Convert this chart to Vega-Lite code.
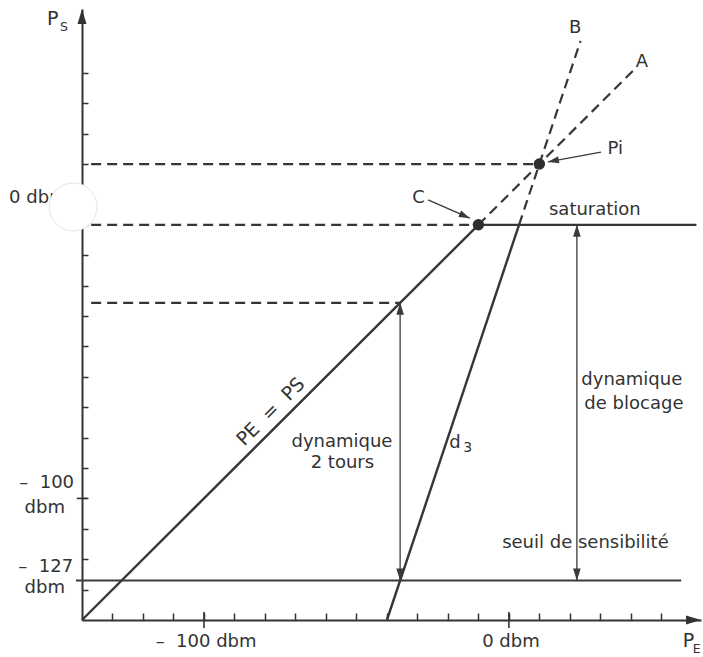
{
  "$schema": "https://vega.github.io/schema/vega-lite/v6.json",
  "width": 619,
  "height": 611,
  "autosize": {"type": "none"},
  "padding": {"left": 82, "top": 9, "right": 2, "bottom": 37},
  "background": "#ffffff",
  "config": {
    "view": {"stroke": null},
    "text": {"font": "DejaVu Sans", "fontSize": 18, "fill": "#333333"},
    "axis": {"zindex": 0}
  },
  "encoding": {
    "x": {
      "field": "x", "type": "quantitative",
      "scale": {"domain": [-140, 63], "nice": false, "zero": false},
      "axis": {"title": null, "labels": false, "grid": false, "domainColor": "#333333", "domainWidth": 2, "tickColor": "#333333", "tickWidth": 1.5, "tickSize": -7,
        "values": [-130, -120, -110, -100, -90, -80, -70, -60, -50, -40, -30, -20, -10, 0, 10, 20, 30, 40, 50]}
    },
    "y": {
      "field": "y", "type": "quantitative",
      "scale": {"domain": [-140, 61], "nice": false, "zero": false},
      "axis": {"title": null, "labels": false, "grid": false, "domainColor": "#333333", "domainWidth": 2, "tickColor": "#333333", "tickWidth": 1.5, "tickSize": -6,
        "values": [-130, -120, -110, -100, -90, -80, -70, -60, -50, -40, -30, -20, -10, 0, 10, 20, 30, 40]}
    }
  },
  "layer": [
    {
      "data": {"values": [
        {"x": -140, "y": -140, "x2": -10, "y2": -10},
        {"x": -40, "y": -140, "x2": 3.33, "y2": -10},
        {"x": -10, "y": -10, "x2": 61.5, "y2": -10}
      ]},
      "mark": {"type": "rule", "strokeWidth": 2.4, "color": "#363636"},
      "encoding": {"x2": {"field": "x2"}, "y2": {"field": "y2"}}
    },
    {
      "data": {"values": [
        {"x": -142, "y": -127, "x2": 56.5, "y2": -127}
      ]},
      "mark": {"type": "rule", "strokeWidth": 1.8, "color": "#3a3a3a"},
      "encoding": {"x2": {"field": "x2"}, "y2": {"field": "y2"}}
    },
    {
      "data": {"values": [
        {"x": -10, "y": -10, "x2": 41, "y2": 41},
        {"x": 3.33, "y": -10, "x2": 23.5, "y2": 50.5},
        {"x": -137, "y": 10, "x2": 10, "y2": 10},
        {"x": -137, "y": -10, "x2": -10, "y2": -10},
        {"x": -137, "y": -35.67, "x2": -35.67, "y2": -35.67}
      ]},
      "mark": {"type": "rule", "strokeWidth": 2.2, "strokeDash": [10, 6], "color": "#363636"},
      "encoding": {"x2": {"field": "x2"}, "y2": {"field": "y2"}}
    },
    {
      "data": {"values": [
        {"x": -35.67, "y": -35.67, "x2": -35.67, "y2": -127},
        {"x": 22.3, "y": -10, "x2": 22.3, "y2": -127},
        {"x": -26.5, "y": -1.8, "x2": -12.8, "y2": -7.8},
        {"x": 30.2, "y": 13.9, "x2": 12.8, "y2": 10.7}
      ]},
      "mark": {"type": "rule", "strokeWidth": 1.3, "color": "#3a3a3a"},
      "encoding": {"x2": {"field": "x2"}, "y2": {"field": "y2"}}
    },
    {
      "data": {"values": [
        {"x": -100, "y": -142.6, "x2": -100, "y2": -137.4},
        {"x": 0, "y": -142.6, "x2": 0, "y2": -137.4},
        {"x": -141.7, "y": -100, "x2": -138.3, "y2": -100}
      ]},
      "mark": {"type": "rule", "strokeWidth": 1.6, "color": "#333333"},
      "encoding": {"x2": {"field": "x2"}, "y2": {"field": "y2"}}
    },
    {
      "data": {"values": [{"x": -35.67, "y": -127}, {"x": 22.3, "y": -127}]},
      "mark": {"type": "point", "shape": "M0,0L-0.32,-1L0.32,-1Z", "size": 576, "filled": true, "opacity": 1, "color": "#3a3a3a", "angle": 0}
    },
    {
      "data": {"values": [{"x": -35.67, "y": -35.67}, {"x": 22.3, "y": -10}]},
      "mark": {"type": "point", "shape": "M0,0L-0.32,-1L0.32,-1Z", "size": 576, "filled": true, "opacity": 1, "color": "#3a3a3a", "angle": 180}
    },
    {
      "data": {"values": [{"x": -140, "y": 61}]},
      "mark": {"type": "point", "shape": "M0,0L-0.3,-1L0.3,-1Z", "size": 900, "filled": true, "opacity": 1, "color": "#333333", "angle": 180}
    },
    {
      "data": {"values": [{"x": 63, "y": -140}]},
      "mark": {"type": "point", "shape": "M0,0L-0.3,-1L0.3,-1Z", "size": 900, "filled": true, "opacity": 1, "color": "#333333", "angle": -90}
    },
    {
      "data": {"values": [{"x": -12.8, "y": -7.8}]},
      "mark": {"type": "point", "shape": "M0,0L-0.32,-1L0.32,-1Z", "size": 484, "filled": true, "opacity": 1, "color": "#3a3a3a", "angle": -66.8}
    },
    {
      "data": {"values": [{"x": 12.8, "y": 10.7}]},
      "mark": {"type": "point", "shape": "M0,0L-0.32,-1L0.32,-1Z", "size": 484, "filled": true, "opacity": 1, "color": "#3a3a3a", "angle": 79}
    },
    {
      "data": {"values": [{"x": -10, "y": -10}, {"x": 10, "y": 10}]},
      "mark": {"type": "point", "shape": "circle", "size": 130, "filled": true, "opacity": 1, "color": "#2e2e2e"}
    },
    {
      "data": {"values": [
        {"x": -54.75, "y": -83.1, "t": "dynamique"},
        {"x": -54.6, "y": -90.0, "t": "2 tours"},
        {"x": 40.3, "y": -62.7, "t": "dynamique"},
        {"x": 41.0, "y": -70.6, "t": "de blocage"},
        {"x": 25.1, "y": -116.3, "t": "seuil de sensibilité"},
        {"x": 28.2, "y": -6.8, "t": "saturation"},
        {"x": -29.67, "y": -2.93, "t": "C"},
        {"x": 34.85, "y": 13.2, "t": "Pi"},
        {"x": 21.7, "y": 53.0, "t": "B"},
        {"x": 43.6, "y": 42.0, "t": "A"},
        {"x": -17.7, "y": -83.4, "t": "d"},
        {"x": -99.3, "y": -148.9, "t": "–\u00a0 100 dbm"},
        {"x": 0.66, "y": -148.9, "t": "0 dbm"}
      ]},
      "mark": {"type": "text", "align": "center", "baseline": "alphabetic"},
      "encoding": {"text": {"field": "t"}}
    },
    {
      "data": {"values": [
        {"x": -142.6, "y": -96.7, "t": "–\u00a0 100"},
        {"x": -145.6, "y": -104.9, "t": "dbm"},
        {"x": -142.9, "y": -124.1, "t": "–\u00a0 127"},
        {"x": -145.6, "y": -131.2, "t": "dbm"}
      ]},
      "mark": {"type": "text", "align": "right", "baseline": "alphabetic"},
      "encoding": {"text": {"field": "t"}}
    },
    {
      "data": {"values": [
        {"x": -151.5, "y": 55.7, "t": "P"},
        {"x": 57.05, "y": -148.9, "t": "P"}
      ]},
      "mark": {"type": "text", "align": "left", "baseline": "alphabetic", "fontSize": 19},
      "encoding": {"text": {"field": "t"}}
    },
    {
      "data": {"values": [
        {"x": -147.2, "y": 53.75, "t": "S"},
        {"x": 60.3, "y": -150.9, "t": "E"}
      ]},
      "mark": {"type": "text", "align": "left", "baseline": "alphabetic", "fontSize": 12.5},
      "encoding": {"text": {"field": "t"}}
    },
    {
      "data": {"values": [
        {"x": -15.0, "y": -84.6, "t": "3"}
      ]},
      "mark": {"type": "text", "align": "left", "baseline": "alphabetic", "fontSize": 14},
      "encoding": {"text": {"field": "t"}}
    },
    {
      "data": {"values": [{"x": -78.1, "y": -71.5, "t": "PE\u00a0 =\u00a0 PS"}]},
      "mark": {"type": "text", "align": "center", "baseline": "middle", "angle": -45, "fontSize": 19},
      "encoding": {"text": {"field": "t"}}
    },
    {
      "data": {"values": [{"x": -163.9, "y": -2.73, "t": "0 dbm"}]},
      "mark": {"type": "text", "align": "left", "baseline": "alphabetic"},
      "encoding": {"text": {"field": "t"}}
    },
    {
      "data": {"values": [{"x": -142.9, "y": -4.1}]},
      "mark": {"type": "point", "shape": "circle", "size": 2304, "filled": true, "opacity": 1, "fill": "#ffffff", "stroke": "#e4e4e4", "strokeWidth": 1}
    }
  ]
}
